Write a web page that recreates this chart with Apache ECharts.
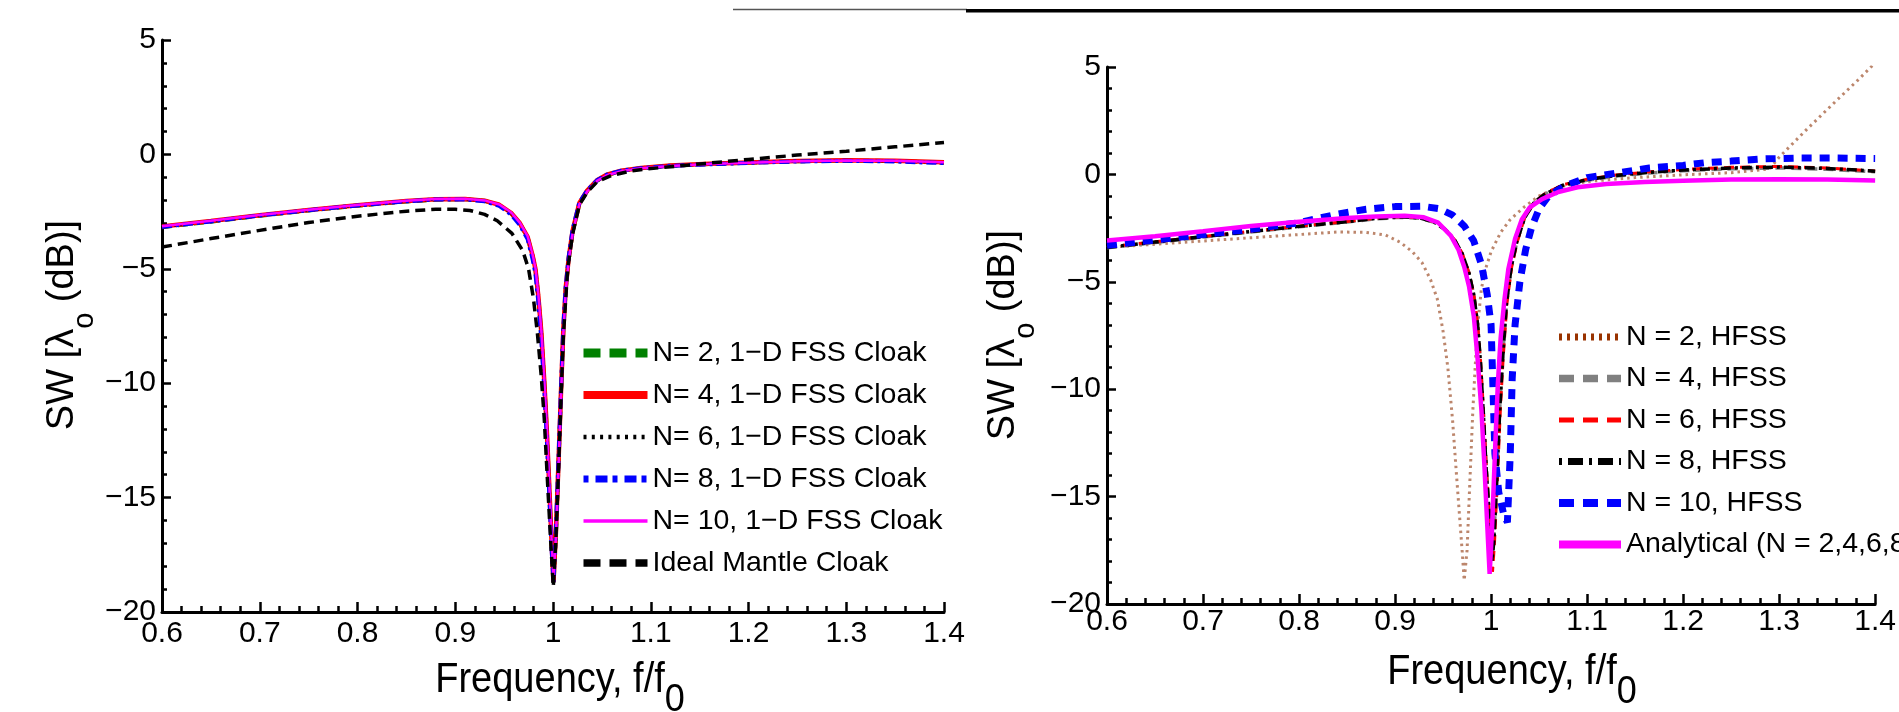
<!DOCTYPE html>
<html>
<head>
<meta charset="utf-8">
<title>SW spectra of FSS mantle cloaks</title>
<script src="https://cdn.jsdelivr.net/npm/echarts@6/dist/echarts.min.js"></script>
<style>
  html, body { margin: 0; padding: 0; background: #fff; }
  #chart { width: 1899px; height: 712px; }
</style>
</head>
<body>
<div id="chart"></div>
<script>
// Axis ranges and tick steps (both panels share them)
const freqRange = [0.6, 1.4];
const freqStep = 0.1;
const swRange = [-20, 5];
const swStep = 5;

// Left panel: 1-D FSS cloaks vs ideal mantle cloak, [f/f0, SW dB]
const fssN2 = [[0.60,-3.18],[0.65,-2.94],[0.70,-2.68],[0.75,-2.45],[0.80,-2.24],[0.85,-2.06],[0.88,-1.98],[0.91,-1.96],[0.93,-2.03],[0.945,-2.22],[0.957,-2.57],[0.966,-3.02],[0.974,-3.62],[0.979,-4.42],[0.982,-5.02],[0.985,-6.22],[0.988,-7.8],[0.991,-9.9],[0.9935,-12.0],[0.996,-14.4],[0.9985,-17.0],[1.0005,-18.8],[1.003,-16.6],[1.0055,-13.7],[1.008,-10.7],[1.0105,-7.8],[1.013,-5.9],[1.016,-4.6],[1.02,-3.4],[1.027,-2.15],[1.035,-1.6],[1.045,-1.15],[1.055,-0.9],[1.07,-0.72],[1.09,-0.6],[1.12,-0.5],[1.16,-0.42],[1.2,-0.36],[1.25,-0.3],[1.3,-0.27],[1.35,-0.29],[1.4,-0.36]];
const fssN4 = [[0.60,-3.15],[0.65,-2.91],[0.70,-2.66],[0.75,-2.43],[0.80,-2.22],[0.85,-2.04],[0.88,-1.96],[0.91,-1.95],[0.93,-2.02],[0.945,-2.2],[0.957,-2.55],[0.966,-3.0],[0.974,-3.6],[0.979,-4.4],[0.982,-5.0],[0.985,-6.2],[0.988,-7.75],[0.991,-9.85],[0.9935,-11.9],[0.996,-14.3],[0.9985,-16.9],[1.0005,-18.7],[1.003,-16.5],[1.0055,-13.6],[1.008,-10.6],[1.0105,-7.7],[1.013,-5.85],[1.016,-4.55],[1.02,-3.35],[1.027,-2.12],[1.035,-1.58],[1.045,-1.13],[1.055,-0.89],[1.07,-0.71],[1.09,-0.59],[1.12,-0.49],[1.16,-0.41],[1.2,-0.35],[1.25,-0.29],[1.3,-0.26],[1.35,-0.28],[1.4,-0.34]];
const fssN6 = [[0.60,-3.16],[0.65,-2.92],[0.70,-2.67],[0.75,-2.44],[0.80,-2.23],[0.85,-2.05],[0.88,-1.97],[0.91,-1.96],[0.93,-2.03],[0.945,-2.21],[0.957,-2.56],[0.966,-3.01],[0.974,-3.61],[0.979,-4.41],[0.982,-5.01],[0.985,-6.21],[0.988,-7.8],[0.991,-9.9],[0.9935,-11.95],[0.996,-14.35],[0.9985,-16.95],[1.0005,-18.75],[1.003,-16.55],[1.0055,-13.65],[1.008,-10.65],[1.0105,-7.75],[1.013,-5.9],[1.016,-4.6],[1.02,-3.4],[1.027,-2.14],[1.035,-1.6],[1.045,-1.14],[1.055,-0.9],[1.07,-0.72],[1.09,-0.6],[1.12,-0.5],[1.16,-0.42],[1.2,-0.36],[1.25,-0.3],[1.3,-0.27],[1.35,-0.29],[1.4,-0.35]];
const fssN8 = [[0.60,-3.17],[0.65,-2.93],[0.70,-2.67],[0.75,-2.44],[0.80,-2.23],[0.85,-2.05],[0.88,-1.97],[0.91,-1.97],[0.93,-2.05],[0.945,-2.25],[0.957,-2.62],[0.966,-3.08],[0.974,-3.7],[0.979,-4.55],[0.982,-5.2],[0.985,-6.45],[0.988,-8.1],[0.991,-10.2],[0.9935,-12.3],[0.996,-14.7],[0.9985,-17.2],[1.0005,-18.7],[1.003,-16.4],[1.0055,-13.5],[1.008,-10.5],[1.0105,-7.6],[1.013,-5.8],[1.016,-4.5],[1.02,-3.3],[1.027,-2.1],[1.035,-1.58],[1.045,-1.13],[1.055,-0.89],[1.07,-0.71],[1.09,-0.6],[1.12,-0.5],[1.16,-0.43],[1.2,-0.37],[1.25,-0.31],[1.3,-0.28],[1.35,-0.31],[1.4,-0.38]];
const fssN10 = [[0.60,-3.14],[0.65,-2.9],[0.70,-2.65],[0.75,-2.42],[0.80,-2.21],[0.85,-2.03],[0.88,-1.95],[0.91,-1.94],[0.93,-2.01],[0.945,-2.19],[0.957,-2.53],[0.966,-2.98],[0.974,-3.57],[0.979,-4.36],[0.982,-4.95],[0.985,-6.12],[0.988,-7.68],[0.991,-9.75],[0.9935,-11.8],[0.996,-14.2],[0.9985,-16.8],[1.0005,-18.6],[1.003,-16.7],[1.0055,-13.8],[1.008,-10.8],[1.0105,-7.9],[1.013,-6.0],[1.016,-4.65],[1.02,-3.45],[1.027,-2.17],[1.035,-1.62],[1.045,-1.16],[1.055,-0.91],[1.07,-0.73],[1.09,-0.61],[1.12,-0.51],[1.16,-0.42],[1.2,-0.36],[1.25,-0.3],[1.3,-0.27],[1.35,-0.28],[1.4,-0.34]];
const idealMantle = [[0.60,-4.05],[0.65,-3.68],[0.70,-3.32],[0.75,-2.98],[0.80,-2.7],[0.85,-2.48],[0.88,-2.4],[0.90,-2.4],[0.915,-2.45],[0.93,-2.62],[0.943,-2.9],[0.958,-3.45],[0.969,-4.2],[0.975,-5.0],[0.98,-6.3],[0.984,-7.8],[0.988,-9.7],[0.991,-11.5],[0.994,-14.0],[0.9975,-16.8],[1.0003,-18.9],[1.003,-16.8],[1.0055,-13.9],[1.008,-10.9],[1.0105,-8.0],[1.015,-5.0],[1.02,-3.5],[1.027,-2.2],[1.035,-1.65],[1.045,-1.2],[1.06,-0.92],[1.08,-0.72],[1.10,-0.62],[1.15,-0.42],[1.20,-0.22],[1.25,-0.03],[1.30,0.14],[1.35,0.33],[1.40,0.52]];

// Right panel: HFSS simulations vs analytical result, [f/f0, SW dB]
const hfssN2 = [[0.60,-3.4],[0.65,-3.25],[0.70,-3.1],[0.75,-2.95],[0.80,-2.8],[0.84,-2.68],[0.87,-2.7],[0.89,-2.82],[0.905,-3.15],[0.918,-3.6],[0.928,-4.1],[0.937,-4.9],[0.944,-5.8],[0.95,-7.3],[0.955,-9.0],[0.96,-11.5],[0.964,-14.0],[0.967,-15.8],[0.97,-17.6],[0.972,-18.9],[0.975,-17.5],[0.978,-14.2],[0.981,-11.0],[0.984,-8.5],[0.987,-6.6],[0.99,-5.3],[0.995,-4.3],[1.0,-3.6],[1.01,-2.7],[1.02,-2.1],[1.035,-1.5],[1.05,-1.0],[1.07,-0.6],[1.10,-0.33],[1.15,-0.15],[1.20,-0.02],[1.25,0.08],[1.29,0.25],[1.30,0.8],[1.33,2.15],[1.36,3.45],[1.383,4.43],[1.40,5.2]];
const hfssN4 = [[0.60,-3.42],[0.65,-3.17],[0.70,-2.92],[0.75,-2.68],[0.80,-2.44],[0.85,-2.22],[0.88,-2.07],[0.905,-2.0],[0.925,-2.04],[0.94,-2.22],[0.952,-2.57],[0.962,-3.07],[0.97,-3.72],[0.977,-4.62],[0.982,-5.62],[0.986,-7.0],[0.989,-8.8],[0.992,-11.1],[0.995,-13.6],[0.998,-15.7],[1.001,-17.7],[1.003,-16.8],[1.006,-14.0],[1.009,-10.9],[1.012,-8.5],[1.016,-6.0],[1.021,-4.3],[1.027,-3.1],[1.035,-2.0],[1.045,-1.3],[1.055,-0.95],[1.075,-0.52],[1.10,-0.27],[1.13,-0.08],[1.165,0.07],[1.20,0.17],[1.25,0.26],[1.30,0.3],[1.35,0.24],[1.40,0.12]];
const hfssN6 = [[0.60,-3.38],[0.65,-3.14],[0.70,-2.89],[0.75,-2.65],[0.80,-2.41],[0.85,-2.19],[0.88,-2.04],[0.905,-1.97],[0.925,-2.01],[0.94,-2.19],[0.952,-2.54],[0.962,-3.04],[0.97,-3.68],[0.977,-4.58],[0.982,-5.58],[0.986,-6.95],[0.989,-8.7],[0.992,-11.0],[0.995,-13.6],[0.998,-15.9],[1.0015,-18.5],[1.0035,-17.2],[1.0065,-14.3],[1.0095,-11.1],[1.0125,-8.6],[1.0165,-6.0],[1.0215,-4.3],[1.0275,-3.1],[1.035,-2.0],[1.045,-1.3],[1.055,-0.93],[1.075,-0.48],[1.10,-0.22],[1.13,-0.03],[1.165,0.12],[1.20,0.23],[1.25,0.33],[1.30,0.37],[1.35,0.3],[1.40,0.16]];
const hfssN8 = [[0.60,-3.4],[0.65,-3.15],[0.70,-2.9],[0.75,-2.66],[0.80,-2.42],[0.85,-2.2],[0.88,-2.05],[0.905,-1.98],[0.925,-2.02],[0.94,-2.2],[0.952,-2.55],[0.962,-3.05],[0.97,-3.7],[0.977,-4.6],[0.982,-5.6],[0.986,-7.0],[0.989,-8.8],[0.992,-11.2],[0.995,-13.8],[0.998,-15.8],[1.001,-18.0],[1.003,-17.0],[1.006,-14.2],[1.009,-11.0],[1.012,-8.6],[1.016,-6.0],[1.021,-4.3],[1.027,-3.1],[1.035,-2.0],[1.045,-1.3],[1.055,-0.95],[1.075,-0.5],[1.10,-0.25],[1.13,-0.05],[1.165,0.1],[1.20,0.2],[1.25,0.3],[1.30,0.34],[1.35,0.28],[1.40,0.15]];
const hfssN10 = [[0.60,-3.3],[0.65,-3.05],[0.70,-2.8],[0.75,-2.55],[0.80,-2.25],[0.84,-1.85],[0.87,-1.62],[0.90,-1.5],[0.928,-1.48],[0.946,-1.6],[0.96,-1.9],[0.972,-2.4],[0.982,-3.1],[0.99,-4.2],[0.996,-5.6],[1.0,-7.0],[1.002,-10.0],[1.004,-13.0],[1.008,-14.8],[1.013,-15.8],[1.017,-16.2],[1.02,-13.0],[1.022,-9.5],[1.025,-7.0],[1.03,-5.0],[1.036,-3.5],[1.042,-2.5],[1.05,-1.6],[1.06,-1.0],[1.076,-0.55],[1.10,-0.15],[1.136,0.1],[1.165,0.3],[1.20,0.42],[1.224,0.55],[1.25,0.62],[1.283,0.72],[1.32,0.76],[1.36,0.76],[1.40,0.74]];
const analytical = [[0.60,-3.08],[0.65,-2.88],[0.70,-2.65],[0.75,-2.4],[0.80,-2.2],[0.85,-2.03],[0.88,-1.96],[0.91,-1.93],[0.93,-2.0],[0.945,-2.25],[0.958,-2.85],[0.966,-3.5],[0.972,-4.3],[0.977,-5.2],[0.982,-6.6],[0.986,-8.6],[0.99,-11.0],[0.993,-13.5],[0.996,-16.3],[0.9985,-18.6],[1.001,-16.5],[1.004,-13.0],[1.007,-9.8],[1.01,-7.6],[1.014,-5.8],[1.018,-4.4],[1.025,-3.0],[1.032,-2.1],[1.04,-1.55],[1.053,-1.15],[1.07,-0.82],[1.09,-0.6],[1.12,-0.45],[1.16,-0.35],[1.20,-0.29],[1.25,-0.24],[1.30,-0.22],[1.35,-0.24],[1.40,-0.28]];

const FONT = "'Liberation Sans', Arial, Helvetica, sans-serif";

// canvas text metrics, used to place the subscripts right after their base text
const measureCtx = document.createElement('canvas').getContext('2d');
function textWidth(str, size) {
  measureCtx.font = size + 'px ' + FONT;
  return measureCtx.measureText(str).width;
}

const chart = echarts.init(document.getElementById('chart'), null, { renderer: 'canvas' });

function freqAxis(gridIndex, labelMargin) {
  return {
    type: 'value', gridIndex,
    min: freqRange[0], max: freqRange[1], interval: freqStep,
    axisLine: { onZero: false, lineStyle: { color: '#000', width: 3 } },
    axisTick: { inside: true, length: 10, lineStyle: { color: '#000', width: 2.5 } },
    minorTick: { show: true, splitNumber: 5, length: 6, lineStyle: { color: '#000', width: 2.5 } },
    splitLine: { show: false },
    axisLabel: {
      margin: labelMargin, color: '#000', fontSize: 30, fontFamily: FONT,
      showMinLabel: true, showMaxLabel: true,
      formatter: v => String(Math.round(v * 10) / 10)
    }
  };
}
function swAxis(gridIndex) {
  return {
    type: 'value', gridIndex,
    min: swRange[0], max: swRange[1], interval: swStep,
    axisLine: { onZero: false, lineStyle: { color: '#000', width: 3 } },
    axisTick: { inside: true, length: 9, lineStyle: { color: '#000', width: 2.5 } },
    minorTick: { show: true, splitNumber: 5, length: 5, lineStyle: { color: '#000', width: 2.5 } },
    splitLine: { show: false },
    axisLabel: {
      margin: 6, color: '#000', fontSize: 30, fontFamily: FONT,
      showMinLabel: true, showMaxLabel: true,
      formatter: v => (v < 0 ? '\u2212' + Math.abs(v) : String(v))
    }
  };
}

function curve(name, data, axis, color, width, type, opacity) {
  return {
    name, type: 'line', data,
    xAxisIndex: axis, yAxisIndex: axis,
    symbol: 'none', showSymbol: false, smooth: false,
    lineStyle: { color, width, type: type || 'solid', cap: 'butt', opacity: opacity == null ? 1 : opacity },
    itemStyle: { color },
    emphasis: { disabled: true },
    silent: true
  };
}

function legendItem(name, color, width, type) {
  return { name, lineStyle: { color, width, type: type || 'solid', cap: 'butt', opacity: 1 }, itemStyle: { opacity: 0 } };
}

const legendText = { fontSize: 28.5, fontFamily: FONT, color: '#000', lineHeight: 30 };

// Axis title built from text pieces: base text plus a lowered subscript.
// pieces: [text, fontSize, offset below the base line centre]
function titleGroup(x, y, rotation, pieces, sy) {
  const total = pieces.reduce((s, p) => s + textWidth(p[0], p[1]), 0);
  let cx = -total / 2;
  const children = pieces.map(p => {
    const el = {
      type: 'text', x: cx, y: p[2], silent: true,
      style: { text: p[0], fontSize: p[1], fontFamily: FONT, fill: '#000', align: 'left', verticalAlign: 'middle' }
    };
    cx += textWidth(p[0], p[1]);
    return el;
  });
  return { type: 'group', x, y, rotation, scaleX: 1, scaleY: sy || 1, silent: true, children };
}

const xTitlePieces = [['Frequency, f/f', 38, 0], ['0', 36, 18]];
const yTitlePieces = [['SW [\u03bb', 38, 0], ['o', 29, 22], [' (dB)]', 38, 0]];

const option = {
  backgroundColor: '#fff',
  animation: false,
  grid: [
    { left: 162, top: 40, width: 782, height: 572 },
    { left: 1107, top: 67, width: 808, height: 537 }
  ],
  xAxis: [freqAxis(0, 7), freqAxis(1, 3)],
  yAxis: [swAxis(0), swAxis(1)],
  legend: [
    {
      orient: 'vertical', left: 579, top: 338, padding: 0,
      itemWidth: 64, itemHeight: 10, itemGap: 12, selectedMode: false,
      textStyle: legendText,
      data: [
        legendItem('N= 2, 1\u2212D FSS Cloak', '#008000', 9, [17, 9]),
        legendItem('N= 4, 1\u2212D FSS Cloak', '#ff0000', 8),
        legendItem('N= 6, 1\u2212D FSS Cloak', '#000000', 4.5, [3, 5.3]),
        legendItem('N= 8, 1\u2212D FSS Cloak', '#0000ff', 7, [5, 7, 12, 5]),
        legendItem('N= 10, 1\u2212D FSS Cloak', '#ff00ff', 3.3),
        legendItem('Ideal Mantle Cloak', '#000000', 7.5, [17, 9])
      ]
    },
    {
      orient: 'vertical', left: 1555, top: 322, padding: 0,
      itemWidth: 62, itemHeight: 10, itemGap: 11.5, selectedMode: false,
      textStyle: legendText,
      data: [
        legendItem('N = 2, HFSS', '#993300', 7, [3, 5]),
        legendItem('N = 4, HFSS', '#808080', 7.5, [15, 9]),
        legendItem('N = 6, HFSS', '#ff0000', 5, [15, 9]),
        legendItem('N = 8, HFSS', '#000000', 7, [3, 6, 15, 6]),
        legendItem('N = 10, HFSS', '#0000ff', 8, [15, 9]),
        legendItem('Analytical (N = 2,4,6,8,10)', '#ff00ff', 8)
      ]
    }
  ],
  graphic: [
    // thin rule and heavy rule along the top edge
    { type: 'line', silent: true, shape: { x1: 733, y1: 9.5, x2: 967, y2: 9.5 }, style: { stroke: '#555', lineWidth: 1.5 } },
    { type: 'line', silent: true, shape: { x1: 966, y1: 10.8, x2: 1899, y2: 10.8 }, style: { stroke: '#000', lineWidth: 3.6 } },
    titleGroup(560, 680, 0, xTitlePieces, 1.1),
    titleGroup(1512, 672, 0, xTitlePieces, 1.1),
    titleGroup(63, 325, Math.PI / 2, yTitlePieces),
    titleGroup(1004, 335, Math.PI / 2, yTitlePieces)
  ],
  series: [
    curve('N= 2, 1\u2212D FSS Cloak', fssN2, 0, '#008000', 4, [10, 6]),
    curve('N= 4, 1\u2212D FSS Cloak', fssN4, 0, '#ff0000', 4.5),
    curve('N= 6, 1\u2212D FSS Cloak', fssN6, 0, '#000000', 2.5, [2, 4]),
    curve('N= 8, 1\u2212D FSS Cloak', fssN8, 0, '#0000ff', 4, [10, 4, 3, 4]),
    curve('N= 10, 1\u2212D FSS Cloak', fssN10, 0, '#ff00ff', 2.5),
    curve('Ideal Mantle Cloak', idealMantle, 0, '#000000', 3.5, [10, 6]),

    curve('N = 2, HFSS', hfssN2, 1, '#a0522d', 3, [2.5, 4], 0.7),
    curve('N = 4, HFSS', hfssN4, 1, '#808080', 3.5, [10, 6]),
    curve('N = 6, HFSS', hfssN6, 1, '#ff0000', 3, [10, 6]),
    curve('N = 8, HFSS', hfssN8, 1, '#000000', 3.5, [10, 4, 3, 4]),
    curve('N = 10, HFSS', hfssN10, 1, '#0000ff', 7, [10, 8]),
    curve('Analytical (N = 2,4,6,8,10)', analytical, 1, '#ff00ff', 4.5)
  ]
};

chart.setOption(option);
</script>
</body>
</html>
